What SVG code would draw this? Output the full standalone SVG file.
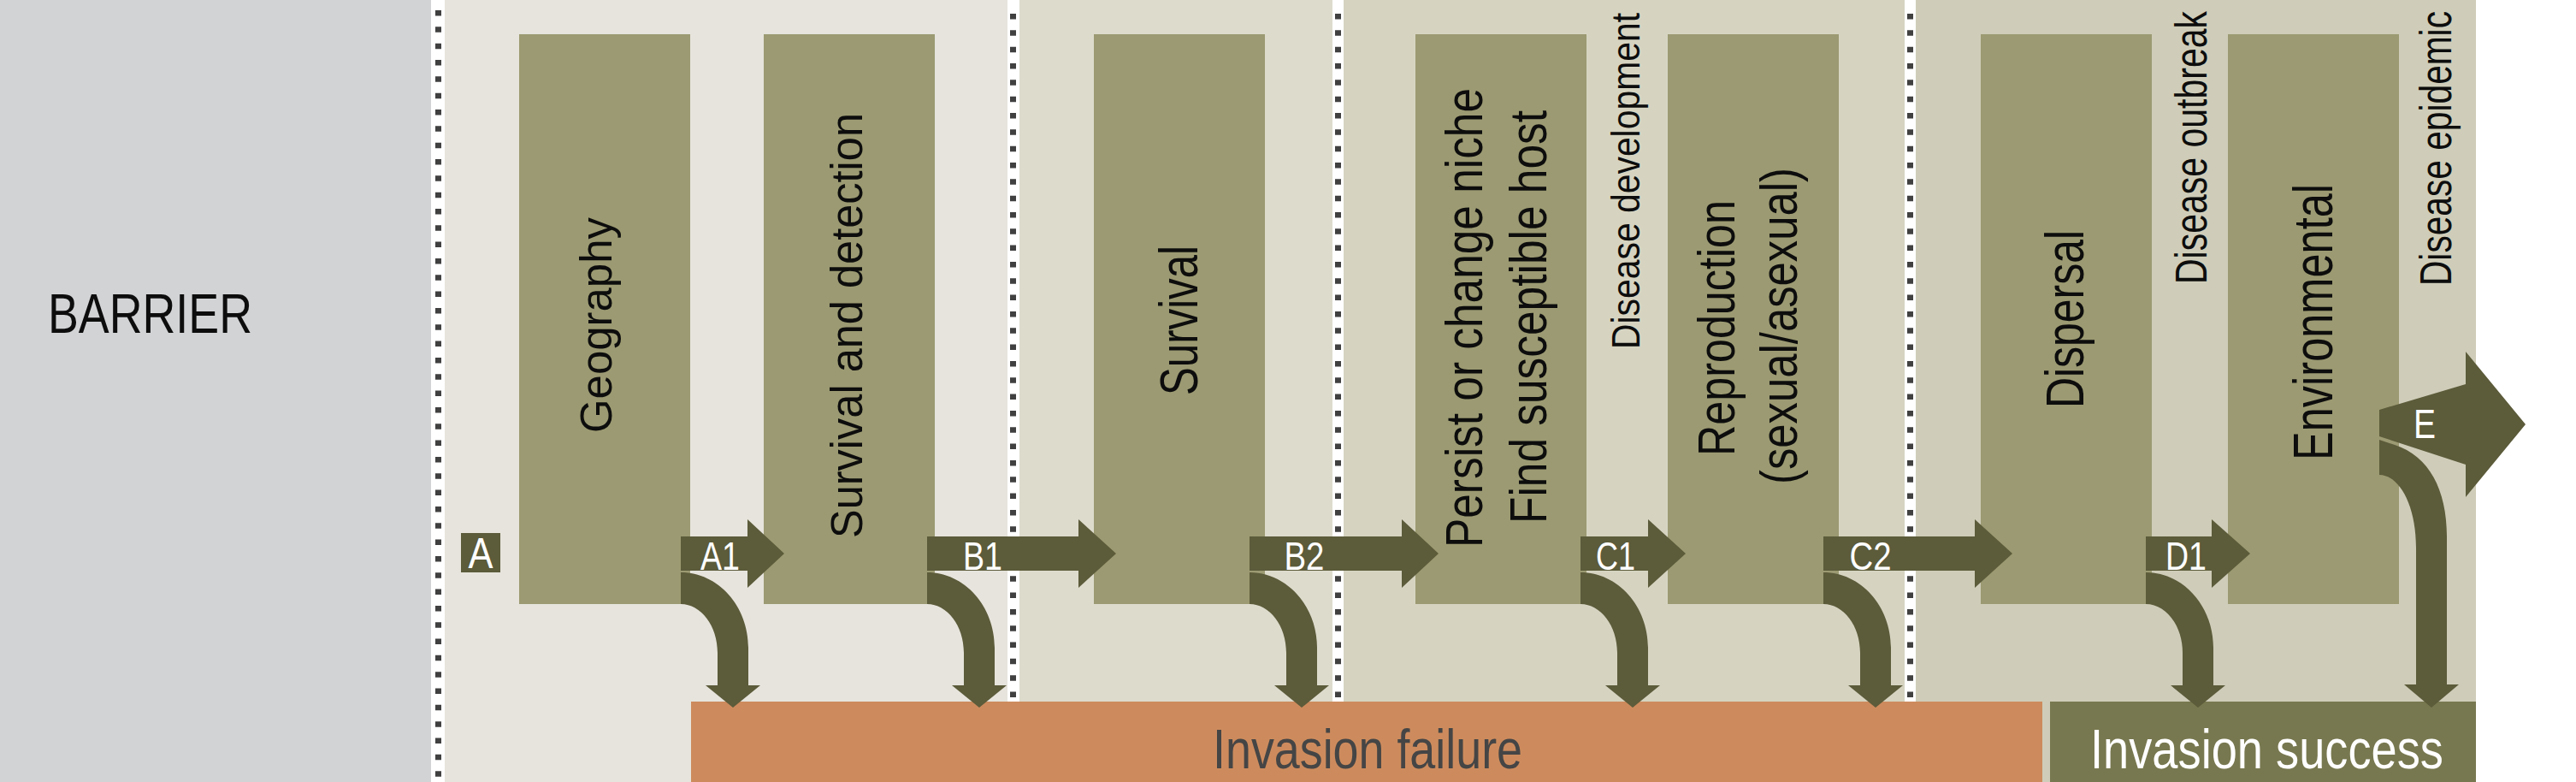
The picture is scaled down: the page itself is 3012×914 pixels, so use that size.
<svg xmlns="http://www.w3.org/2000/svg" width="3012" height="914" viewBox="0 0 3012 914">
<defs>
<style>
.box{fill:#9b9a72}
.arr{fill:#5c5b3a}
.t{font-family:"Liberation Sans",Arial,sans-serif;fill:#0d0d0d}
.lbl{font-family:"Liberation Sans",Arial,sans-serif;fill:#fff;font-size:47px;text-anchor:middle}
.dots{stroke:#404040;stroke-width:7;stroke-dasharray:6.5 12.83}
.strip{fill:#fff}
</style>
<path id="curve" d="M0,0 C43.6,0 79,39.4 79,88 L79,132 L93,132 L61,158 L29,132 L43,132 L43,94 C43,62.5 23.7,37 0,37 Z"/>
</defs>
<rect width="3012" height="914" fill="#fff"/>
<g id="backgrounds">
<rect x="0" y="0" width="504" height="914" fill="#d2d3d5"/>
<rect x="520" y="0" width="665" height="914" fill="#e6e4dc"/>
<rect x="1185" y="0" width="379" height="914" fill="#dddbcc"/>
<rect x="1564" y="0" width="669" height="914" fill="#d6d4c1"/>
<rect x="2233" y="0" width="662" height="914" fill="#cfcdb9"/>
</g>
<g id="dividers">
<rect class="strip" x="504" y="0" width="16" height="914"/>
<line class="dots" x1="512.5" y1="12" x2="512.5" y2="914"/>
<rect class="strip" x="1178" y="0" width="14" height="820"/>
<line class="dots" x1="1184.5" y1="16" x2="1184.5" y2="820"/>
<rect class="strip" x="1558" y="0" width="13" height="820"/>
<line class="dots" x1="1564.5" y1="16" x2="1564.5" y2="820"/>
<rect class="strip" x="2227" y="0" width="13" height="820"/>
<line class="dots" x1="2233.5" y1="16" x2="2233.5" y2="820"/>
</g>
<g id="barrier">
<text class="t" x="56" y="389" font-size="65" textLength="239" lengthAdjust="spacingAndGlyphs">BARRIER</text>
</g>
<g id="geography">
<rect class="box" x="607" y="40" width="200" height="666"/>
<text class="t" font-size="52" transform="translate(715,506) rotate(-90)" textLength="252" lengthAdjust="spacingAndGlyphs">Geography</text>
</g>
<g id="survival-detection">
<rect class="box" x="893" y="40" width="200" height="666"/>
<text class="t" font-size="51" transform="translate(1008,629) rotate(-90)" textLength="497" lengthAdjust="spacingAndGlyphs">Survival and detection</text>
</g>
<g id="survival">
<rect class="box" x="1279" y="40" width="200" height="666"/>
<text class="t" font-size="63" transform="translate(1400,462) rotate(-90)" textLength="175" lengthAdjust="spacingAndGlyphs">Survival</text>
</g>
<g id="persist">
<rect class="box" x="1655" y="40" width="200" height="666"/>
<text class="t" font-size="62" transform="translate(1733,640) rotate(-90)" textLength="537" lengthAdjust="spacingAndGlyphs">Persist or change niche</text>
<text class="t" font-size="62" transform="translate(1808,612) rotate(-90)" textLength="483" lengthAdjust="spacingAndGlyphs">Find susceptible host</text>
</g>
<g id="disease-development">
<text class="t" font-size="47" transform="translate(1917,408) rotate(-90)" textLength="393" lengthAdjust="spacingAndGlyphs">Disease development</text>
</g>
<g id="reproduction">
<rect class="box" x="1950" y="40" width="200" height="666"/>
<text class="t" font-size="62" transform="translate(2028,533) rotate(-90)" textLength="299" lengthAdjust="spacingAndGlyphs">Reproduction</text>
<text class="t" font-size="62" transform="translate(2101,566) rotate(-90)" textLength="370" lengthAdjust="spacingAndGlyphs">(sexual/asexual)</text>
</g>
<g id="dispersal">
<rect class="box" x="2316" y="40" width="200" height="666"/>
<text class="t" font-size="63" transform="translate(2436,477) rotate(-90)" textLength="208" lengthAdjust="spacingAndGlyphs">Dispersal</text>
</g>
<g id="disease-outbreak">
<text class="t" font-size="51" transform="translate(2580,332) rotate(-90)" textLength="319" lengthAdjust="spacingAndGlyphs">Disease outbreak</text>
</g>
<g id="environmental">
<rect class="box" x="2605" y="40" width="200" height="666"/>
<text class="t" font-size="64" transform="translate(2727,538) rotate(-90)" textLength="323" lengthAdjust="spacingAndGlyphs">Environmental</text>
</g>
<g id="disease-epidemic">
<text class="t" font-size="52" transform="translate(2866,334) rotate(-90)" textLength="321" lengthAdjust="spacingAndGlyphs">Disease epidemic</text>
</g>
<g id="invasion-failure">
<rect x="808" y="820" width="1580" height="94" fill="#cd8b5d"/>
<text class="t" x="1418" y="898" font-size="65" style="fill:#454545" textLength="362" lengthAdjust="spacingAndGlyphs">Invasion failure</text>
</g>
<g id="invasion-success">
<rect x="2397" y="820" width="498" height="94" fill="#787850"/>
<text class="t" x="2444" y="898" font-size="65" style="fill:#fff" textLength="413" lengthAdjust="spacingAndGlyphs">Invasion success</text>
</g>
<g id="label-a">
<rect class="arr" x="539" y="623" width="46" height="46"/>
<text class="lbl" x="562" y="664" style="font-size:50px" textLength="29" lengthAdjust="spacingAndGlyphs">A</text>
</g>
<g id="connectors">
<path class="arr" d="M796,627 H874 V607 L917,647 L874,687 V667 H796 Z"/>
<path class="arr" d="M1084,627 H1261 V607 L1305,647 L1261,687 V667 H1084 Z"/>
<path class="arr" d="M1461,627 H1639 V607 L1682,647 L1639,687 V667 H1461 Z"/>
<path class="arr" d="M1848,627 H1927 V607 L1971,647 L1927,687 V667 H1848 Z"/>
<path class="arr" d="M2132,627 H2309 V607 L2353,647 L2309,687 V667 H2132 Z"/>
<path class="arr" d="M2509,627 H2586 V607 L2631,647 L2586,687 V667 H2509 Z"/>
<use href="#curve" class="arr" x="796" y="669"/>
<use href="#curve" class="arr" x="1084" y="669"/>
<use href="#curve" class="arr" x="1461" y="669"/>
<use href="#curve" class="arr" x="1848" y="669"/>
<use href="#curve" class="arr" x="2132" y="669"/>
<use href="#curve" class="arr" x="2509" y="669"/>
<path class="arr" d="M2782,479 L2883,449 V411 L2953,496 L2883,581 V543 L2782,510 Z"/>
<path class="arr" d="M2782,514 L2800,520 C2840,533 2861,572 2861,627 L2861,800 L2875,800 L2843,827 L2811,800 L2825,800 L2825,640 C2825,590 2805,555 2782,555 Z"/>
<text class="lbl" x="842" y="666" textLength="46" lengthAdjust="spacingAndGlyphs">A1</text>
<text class="lbl" x="1149" y="666" textLength="46" lengthAdjust="spacingAndGlyphs">B1</text>
<text class="lbl" x="1525" y="666" textLength="47" lengthAdjust="spacingAndGlyphs">B2</text>
<text class="lbl" x="1889" y="666" textLength="46" lengthAdjust="spacingAndGlyphs">C1</text>
<text class="lbl" x="2187" y="666" textLength="49" lengthAdjust="spacingAndGlyphs">C2</text>
<text class="lbl" x="2556" y="666" textLength="48" lengthAdjust="spacingAndGlyphs">D1</text>
<text class="lbl" x="2835" y="512" style="font-size:49px" textLength="26" lengthAdjust="spacingAndGlyphs">E</text>
</g>
</svg>
